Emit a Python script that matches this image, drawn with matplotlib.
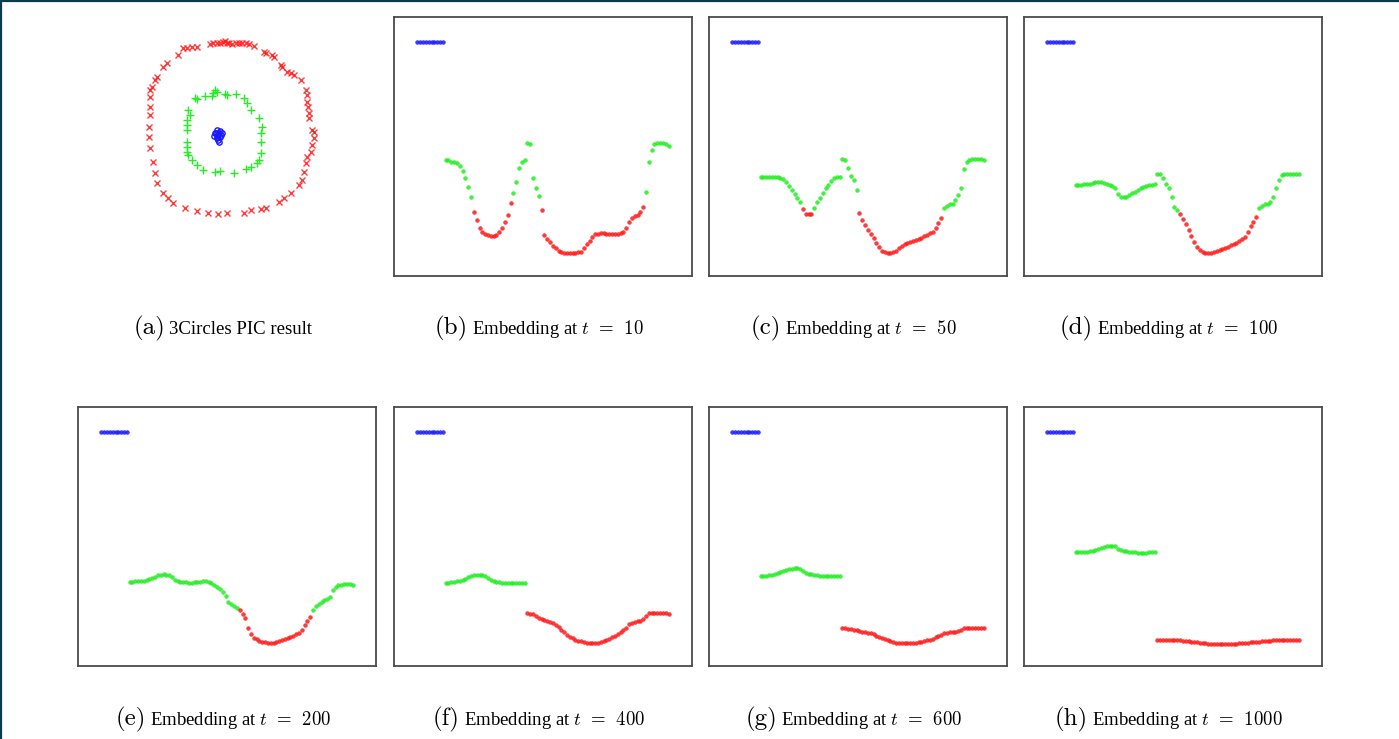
"""
PIC (power iteration clustering) on 3Circles: final clustering plus the
one-dimensional embedding v_t at several iterations t.

Each embedding panel plots the value of every point (y) against its index (x),
coloured by the cluster it falls in at that iteration.
"""
import matplotlib

matplotlib.use("Agg")
import matplotlib.pyplot as plt
from matplotlib.lines import Line2D

plt.rcParams["mathtext.fontset"] = "cm"

RED, GREEN, BLUE = "#ff1a1a", "#22ee22", "#1a1aff"
CLUSTER_COLORS = {"r": RED, "g": GREEN, "b": BLUE}

# ---- panel (a): the 3Circles data set coloured by PIC result -------------
OUTER_X = [-22, -19, -15, -12, -9, -7, -5, -2, 1, 5, 8, 11, 15, 18, 23,
           -35, -40, -45, -49, -54, -65, -69, -75, -77, -80, -82, -82, -82,
           -82, -83, -83, -82, -79, -77, -75, -69, -64, -59, -47, -35, -24,
           -14, -4, 13, 20, 30, 35, 48, 53, 60, 68, 71, 73, 75, 76, 80, 81,
           83, 83, 81, 78, 78, 77, 76, 76, 75, 70, 63, 60, 56, 51, 50, 43,
           41, 35, 33]
OUTER_Y = [83, 84, 84, 84, 85, 86, 84, 84, 83, 84, 84, 84, 84, 83, 81,
           80, 80, 79, 79, 72, 64, 60, 50, 47, 40, 37, 30, 20,
           12, 0, -10, -21, -35, -46, -56, -66, -71, -76, -81, -84, -86,
           -87, -86, -86, -83, -82, -81, -75, -71, -66, -58, -53, -45, -36,
           -30, -25, -18, -11, -5, -3, 9, 14, 20, 25, 32, 37, 47, 52, 54,
           55, 60, 62, 70, 72, 74, 75]
MIDDLE_X = [-44, -42, -45, -45, -45, -45, -45, -45, -44, -40, -35, -29,
            -17, -12, 3, 15, 20, 26, 28, 30, 30, 30, 31, 28, 20, 16, 13,
            5, -5, -7, -15, -17, -19, -20, -27, -35, -37]
MIDDLE_Y = [17, 12, 7, 2, -3, -15, -20, -25, -28, -33, -38, -43,
            -45, -44, -46, -42, -40, -36, -33, -26, -15, -6, 0, 9, 17, 24,
            29, 33, 32, 33, 35, 37, 34, 31, 31, 28, 29]
INNER_X = [-17, -15, -12, -10, -12, -14, -15, -18, -14, -13, -15, -13, -11, -16]
INNER_Y = [-6, -3, -4, -6, -10, -13, -11, -9, -8, -6, -9, -15, -8, -6]

# ---- panels (b)-(h): embedding value per point index ---------------------
BLUE_PART = [234, 234, 234, 234, 234, 234, 234, 234, 234, 234]

EMB_T10 = BLUE_PART + [
    116.0, 115.7, 114.3, 113.7, 112.7, 110.0, 105.0, 98.3, 89.3, 79.3,
    64.3, 56.0, 48.3, 43.7, 41.7, 40.7, 40.3, 40.3, 41.0, 43.7,
    48.3, 54.3, 61.0, 72.7, 82.7, 94.3, 107.7, 114.3, 116.0, 133.0,
    131.7, 97.7, 88.3, 80.3, 66.0, 41.0, 37.0, 33.7, 30.3, 27.7,
    25.3, 24.0, 23.3, 22.7, 22.7, 22.7, 23.0, 23.7, 24.3, 27.7,
    31.7, 35.0, 39.3, 41.7, 42.3, 42.7, 42.7, 42.3, 41.7, 42.0,
    41.7, 42.0, 42.7, 44.3, 48.3, 54.3, 57.7, 59.7, 61.0, 63.7,
    69.3, 84.3, 114.3, 126.0, 131.7, 132.7, 133.0, 133.0, 132.3, 130.3]
EMB_T50 = BLUE_PART + [
    99.3, 99.3, 99.3, 99.3, 99.3, 99.0, 98.7, 98.3, 97.0, 94.3,
    90.3, 86.0, 81.7, 77.7, 73.7, 66.7, 62.3, 61.7, 62.3, 68.3,
    73.7, 78.3, 83.3, 87.7, 91.0, 95.3, 98.3, 99.0, 99.3, 117.0,
    116.3, 108.3, 100.3, 96.0, 86.0, 62.7, 56.0, 51.0, 46.0, 42.0,
    37.7, 33.3, 28.7, 25.3, 23.7, 22.7, 22.7, 23.7, 25.3, 27.7,
    30.0, 31.7, 32.7, 33.7, 34.7, 35.7, 37.0, 38.3, 40.0, 41.3,
    42.7, 44.3, 48.3, 52.7, 58.3, 67.7, 70.3, 71.7, 72.3, 76.0,
    81.0, 88.3, 107.0, 113.7, 116.0, 117.0, 117.0, 117.0, 116.7, 115.7]
EMB_T100 = BLUE_PART + [
    91.0, 91.3, 91.3, 91.7, 92.0, 92.3, 93.0, 93.7, 94.0, 93.7,
    93.0, 92.3, 91.0, 89.7, 87.7, 81.7, 79.0, 78.7, 79.3, 81.0,
    82.7, 84.3, 86.0, 87.7, 88.7, 90.0, 90.7, 91.0, 91.7, 102.0,
    101.7, 97.7, 91.7, 87.7, 79.3, 69.3, 66.0, 61.7, 56.7, 51.7,
    46.0, 40.3, 33.7, 28.7, 26.0, 24.3, 23.3, 22.7, 23.3, 24.3,
    25.3, 26.3, 27.3, 28.3, 29.3, 30.7, 32.0, 33.3, 35.0, 36.7,
    39.3, 43.7, 50.3, 53.7, 59.3, 67.7, 70.3, 71.7, 72.3, 74.3,
    79.3, 87.7, 96.0, 100.7, 101.7, 102.0, 102.0, 102.0, 102.0, 102.0]
EMB_T200 = BLUE_PART + [
    84.3, 84.3, 84.7, 84.7, 85.0, 85.3, 86.0, 86.7, 88.0, 89.3,
    90.7, 91.3, 91.7, 91.3, 90.7, 89.3, 86.0, 85.0, 84.3, 84.0,
    83.7, 83.3, 83.3, 83.7, 84.0, 84.3, 84.7, 85.0, 84.3, 83.3,
    81.0, 78.7, 76.7, 74.3, 70.0, 63.7, 62.0, 60.0, 58.0, 56.0,
    52.0, 47.7, 37.7, 31.7, 28.3, 26.7, 25.3, 24.3, 23.7, 23.0,
    22.7, 23.0, 23.7, 24.7, 25.7, 26.7, 27.7, 29.0, 30.3, 31.7,
    33.3, 36.0, 41.0, 45.0, 49.3, 56.0, 60.3, 62.3, 64.0, 65.7,
    67.0, 69.3, 76.0, 78.7, 80.7, 81.3, 81.7, 81.7, 81.7, 80.7]
EMB_T400 = BLUE_PART + [
    83.3, 83.3, 83.7, 84.0, 84.7, 85.3, 86.3, 87.3, 88.7, 89.7,
    90.7, 91.0, 91.0, 91.0, 90.3, 87.7, 86.0, 85.0, 84.3, 83.7,
    83.3, 83.0, 82.7, 82.7, 82.7, 83.0, 83.3, 83.3, 83.3, 53.3,
    52.3, 51.7, 50.0, 48.3, 47.0, 46.0, 45.0, 44.0, 42.7, 41.0,
    39.0, 36.3, 33.7, 31.3, 29.3, 27.7, 26.3, 25.3, 24.7, 24.0,
    23.3, 23.0, 23.0, 23.0, 23.3, 24.0, 25.0, 26.0, 27.3, 28.7,
    30.0, 32.3, 34.3, 36.0, 38.3, 41.7, 43.3, 44.0, 44.7, 45.3,
    46.7, 50.3, 52.7, 53.0, 53.3, 53.3, 53.3, 53.3, 53.0, 52.3]
EMB_T600 = BLUE_PART + [
    90.0, 90.0, 90.3, 90.7, 91.3, 92.0, 93.0, 94.0, 95.3, 96.3,
    97.0, 97.3, 97.7, 97.7, 97.3, 95.0, 93.3, 92.3, 91.7, 91.0,
    90.7, 90.3, 90.0, 90.0, 90.0, 90.3, 90.3, 90.3, 90.3, 37.7,
    37.7, 37.3, 36.7, 36.0, 35.7, 35.0, 34.3, 33.7, 33.3, 32.7,
    31.7, 30.3, 29.0, 27.7, 26.7, 25.7, 24.7, 24.0, 23.3, 23.0,
    22.7, 22.7, 22.7, 22.7, 23.0, 23.3, 24.0, 24.3, 25.0, 25.7,
    26.3, 27.3, 28.7, 30.0, 31.3, 32.7, 33.3, 33.7, 34.0, 34.3,
    34.7, 35.7, 37.7, 38.0, 38.3, 38.3, 38.3, 38.3, 38.0, 37.7]
EMB_T1000 = BLUE_PART + [
    113.7, 113.7, 114.0, 114.0, 114.3, 114.7, 115.3, 116.3, 117.3, 118.3,
    119.3, 119.7, 120.0, 120.0, 119.7, 117.3, 116.0, 115.3, 114.7, 114.3,
    114.0, 113.7, 113.3, 113.0, 113.0, 113.3, 113.7, 114.0, 114.0, 25.7,
    25.7, 26.0, 26.0, 26.0, 26.0, 26.0, 26.0, 25.7, 25.3, 25.3,
    25.0, 24.3, 24.0, 23.7, 23.3, 23.0, 22.7, 22.3, 22.3, 22.0,
    22.0, 22.0, 22.0, 22.0, 22.0, 22.0, 22.3, 22.3, 22.7, 22.7,
    23.0, 23.3, 23.7, 24.0, 24.0, 24.3, 24.7, 25.0, 25.3, 25.3,
    25.7, 25.7, 26.0, 26.0, 26.0, 26.0, 26.0, 26.0, 26.0, 26.0]

# cluster assignment as runs: (first index of run, cluster)
RUNS_T10 = [(0, "b"), (10, "g"), (20, "r"), (34, "g"), (44, "r"), (81, "g")]
RUNS_T50 = [(0, "b"), (10, "g"), (25, "r"), (29, "g"), (45, "r"), (75, "g")]
RUNS_T100 = [(0, "b"), (10, "g"), (47, "r"), (75, "g")]
RUNS_T200 = [(0, "b"), (10, "g"), (49, "r"), (75, "g")]
RUNS_LATE = [(0, "b"), (10, "g"), (39, "r")]

PANELS = [
    ("(b)", 10, EMB_T10, RUNS_T10),
    ("(c)", 50, EMB_T50, RUNS_T50),
    ("(d)", 100, EMB_T100, RUNS_T100),
    ("(e)", 200, EMB_T200, RUNS_T200),
    ("(f)", 400, EMB_T400, RUNS_LATE),
    ("(g)", 600, EMB_T600, RUNS_LATE),
    ("(h)", 1000, EMB_T1000, RUNS_LATE),
]

W, H = 1399, 739
COL_LEFT = [78, 394, 709, 1024]
ROW_TOP = [17, 407]
AX_W, AX_H = 298, 259
CAPTION_BASE = [334, 725]


def add_box(fig, col, row):
    left = COL_LEFT[col] / W
    bottom = (H - ROW_TOP[row] - AX_H) / H
    return fig.add_axes([left, bottom, AX_W / W, AX_H / H])


def caption(fig, col, row, tag, body):
    r = fig.canvas.get_renderer()
    y = (H - CAPTION_BASE[row]) / H
    t1 = fig.text(0, y, tag, fontsize=18, family="cmr10", va="baseline")
    t2 = fig.text(0, y, body, fontsize=13.5, family="Liberation Serif",
                  va="baseline")
    w1 = t1.get_window_extent(r).width
    w2 = t2.get_window_extent(r).width
    gap = 4
    x0 = COL_LEFT[col] + AX_W / 2 - 4 - (w1 + gap + w2) / 2
    t1.set_x(x0 / W)
    t2.set_x((x0 + w1 + gap) / W)


def plot_embedding(ax, values, runs):
    bounds = [s for s, _ in runs[1:]] + [len(values)]
    for (start, cl), end in zip(runs, bounds):
        idx = list(range(start, end))
        ax.plot(idx, values[start:end], ls="none", marker="o", ms=2.7,
                mew=0.4, color=CLUSTER_COLORS[cl], alpha=0.85)
    ax.set_xlim(-8.3, 97.3)
    ax.set_ylim(0, AX_H)
    ax.set_xticks([])
    ax.set_yticks([])
    for sp in ax.spines.values():
        sp.set_color("#4a4a4a")
        sp.set_linewidth(1.3)


fig = plt.figure(figsize=(W / 100, H / 100), dpi=100)

# (a) clustering result in data space
ax = add_box(fig, 0, 0)
ax.plot(OUTER_X, OUTER_Y, ls="none", marker="x", ms=4.3, mew=1.0,
        color=RED, alpha=0.85)
ax.plot(MIDDLE_X, MIDDLE_Y, ls="none", marker="+", ms=5.2, mew=1.0,
        color=GREEN)
ax.plot(INNER_X, INNER_Y, ls="none", marker="o", ms=3.8, mew=1.0,
        mfc="none", color=BLUE)
ax.set_xlim(-154, 145)
ax.set_ylim(-149, 110)
ax.axis("off")
caption(fig, 0, 0, "(a)", "3Circles PIC result")

for k, (tag, t, values, runs) in enumerate(PANELS, start=1):
    row, col = divmod(k, 4)
    ax = add_box(fig, col, row)
    plot_embedding(ax, values, runs)
    caption(fig, col, row, tag, rf"Embedding at $t\;\,=\;\,{t}$")

# dark frame edge along the top and left of the page
edge = "#0c3b4e"
fig.add_artist(Line2D([0.0007, 0.0007], [0, 1], transform=fig.transFigure,
                      color=edge, lw=1.6))
fig.add_artist(Line2D([0, 1], [0.9986, 0.9986], transform=fig.transFigure,
                      color=edge, lw=1.6))

fig.savefig("out.png", dpi=100)
